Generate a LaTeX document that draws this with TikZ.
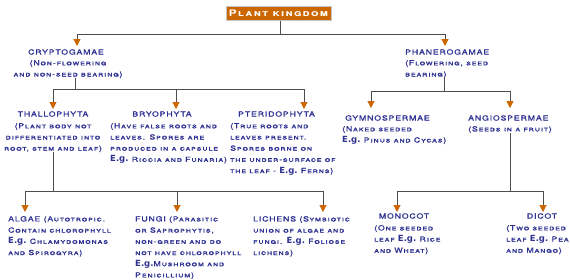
\documentclass[tikz,border=0pt]{standalone}
\usepackage{fontspec}
\setmainfont[LetterSpace=12,FakeStretch=1.25,FakeBold=1.2]{TeX Gyre Heros}
\newfontfamily\rootfont[LetterSpace=14,FakeStretch=1.3]{TeX Gyre Heros}
\newfontfamily\egfont{DejaVu Sans}
\usetikzlibrary{arrows.meta}
\definecolor{txt}{HTML}{2E3192}
\definecolor{ln}{HTML}{4D4D4D}
\definecolor{org}{HTML}{CC6600}
\newcommand\EG{{\egfont\bfseries\fontsize{8.5}{8}\selectfont E.g.}}
\begin{document}
\begin{tikzpicture}[x=1pt,y=-1pt,
  txtf/.style={font=\fontsize{7}{11.2}\selectfont\scshape, text=txt, inner sep=0pt},
  title/.style={txtf},
  body/.style={txtf, align=left, anchor=north west},
  conn/.style={draw=ln, line width=1pt},
  arr/.style={conn, -{Triangle[width=7pt,length=7pt,color=org]}},
  rootbox/.style={fill=org, draw=gray!45, line width=0.8pt, text=white, inner sep=0pt,
    minimum width=105pt, minimum height=14pt, font=\rootfont\fontsize{9}{9}\selectfont\bfseries\scshape}]
\useasboundingbox[fill=white] (0,0) rectangle (570,279);
% root
\node[rootbox] (root) at (278.5,13.5) {Plant kingdom};
% level 1
\node[title] (cry) at (66,52) {CRYPTOGAMAE};
\node[body, align=center, anchor=north] (cryb) at (68,60) {(Non-flowering\\and non-seed bearing)};
\node[title, anchor=west] (pha) at (405,52) {PHANEROGAMAE};
\node[body] (phab) at (405,60) {(Flowering, seed\\bearing)};
% level 2
\node[title] (tha) at (53,114) {THALLOPHYTA};
\node[body, align=center, anchor=north] (thab) at (53,123) {(Plant body not\\differentiated into\\root, stem and leaf)};
\node[title] (bry) at (162,114) {BRYOPHYTA};
\node[body] (bryb) at (110,123) {(Have false roots and\\leaves. Spores are\\produced in a capsule\\\EG\ Riccia and Funaria)};
\node[title, anchor=west] (pte) at (238,114) {PTERIDOPHYTA};
\node[body] (pteb) at (230,123) {(True roots and\\leaves present.\\Spores borne on\\the under-surface of\\the leaf - \EG\ Ferns)};
\node[title, anchor=west] (gym) at (345,118) {GYMNOSPERMAE};
\node[body] (gymb) at (342,126) {(Naked seeded\\\EG\ Pinus and Cycas)};
\node[title, anchor=west] (ang) at (468,118) {ANGIOSPERMAE};
\node[body] (angb) at (468,126) {(Seeds in a fruit)};
% level 3
\node[body] (alg) at (8,216) {ALGAE (Autotropic.\\Contain chlorophyll\\\EG\ Chlamydomonas\\and Spirogyra)};
\node[body] (fun) at (135,216) {FUNGI (Parasitic\\or Saprophytis,\\non-green and do\\not have chlorophyll\\\EG Mushroom and\\Penicillium)};
\node[body] (lic) at (253,216) {LICHENS (Symbiotic\\union of algae and\\fungi. \EG\ Foliose\\lichens)};
\node[title] (mon) at (404,216) {MONOCOT};
\node[body] (monb) at (374,225) {(One seeded\\leaf \EG\ Rice\\and Wheat)};
\node[title] (dic) at (542,216) {DICOT};
\node[body] (dicb) at (506,225) {(Two seeded\\leaf \EG\ Pea\\and Mango)};
% arrow tips
\coordinate (tCry) at (77,46);
\coordinate (tPha) at (445,46);
\coordinate (tTha) at (53,109);
\coordinate (tBry) at (176,109);
\coordinate (tPte) at (304,109);
\coordinate (tGym) at (371,108);
\coordinate (tAng) at (510,108);
\coordinate (tAlg) at (25,212);
\coordinate (tFun) at (177,212);
\coordinate (tLic) at (323,212);
\coordinate (tMon) at (397,212);
\coordinate (tDic) at (543,212);
% junctions
\coordinate (j0) at (280,34);
\coordinate (j1) at (75,89.5);
\coordinate (j2) at (444,91);
\coordinate (j3) at (53,191);
\coordinate (j4) at (510,191);
% connectors
\draw[conn] (root.south -| j0) -- (j0);
\draw[arr] (j0) -| (tCry);
\draw[arr] (j0) -| (tPha);
\draw[conn] (cryb.south -| j1) -- (j1);
\draw[arr] (j1) -| (tTha);
\draw[arr] (j1) -| (tBry);
\draw[arr] (j1) -| (tPte);
\draw[conn] (phab.south -| j2) -- (j2);
\draw[arr] (j2) -| (tGym);
\draw[arr] (j2) -| (tAng);
\draw[conn] (thab.south -| j3) -- (j3);
\draw[arr] (j3) -| (tAlg);
\draw[arr] (j3) -| (tFun);
\draw[arr] (j3) -| (tLic);
\draw[conn] (angb.south -| j4) -- (j4);
\draw[arr] (j4) -| (tMon);
\draw[arr] (j4) -| (tDic);
\end{tikzpicture}
\end{document}
